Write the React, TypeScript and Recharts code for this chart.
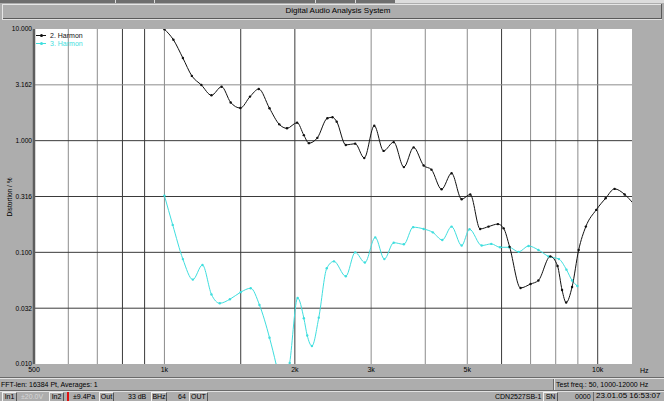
import React from 'react';
import { LineChart, Line, XAxis, YAxis, ReferenceLine, ReferenceArea } from 'recharts';

// ---- data ----
const harmon2Freq = [1000, 1049, 1103, 1157, 1217, 1284, 1355, 1422, 1497, 1576, 1651, 1748, 1841, 1918, 2024, 2098, 2155, 2254, 2377, 2443, 2498, 2622, 2756, 2892, 3050, 3205, 3382, 3570, 3760, 3965, 4134, 4362, 4600, 4853, 5080, 5354, 5598, 5884, 6067, 6262, 6636, 6998, 7297, 7775, 8078, 8275, 8457, 8727, 9038, 9389, 9922, 10430, 10940, 11540, 12070];
const harmon2Values = [9.95, 8.0, 5.5, 3.8, 3.15, 2.55, 3.04, 2.2, 1.96, 2.48, 2.9, 1.95, 1.4, 1.29, 1.45, 1.12, 0.95, 1.06, 1.59, 1.62, 1.48, 0.915, 0.94, 0.7, 1.36, 0.81, 0.97, 0.58, 0.87, 0.6, 0.55, 0.367, 0.51, 0.299, 0.33, 0.162, 0.17, 0.179, 0.164, 0.112, 0.048, 0.052, 0.056, 0.092, 0.0755, 0.046, 0.0355, 0.049, 0.105, 0.17, 0.24, 0.305, 0.37, 0.33, 0.275];

const harmon3Freq = [1000, 1045, 1103, 1163, 1224, 1284, 1342, 1416, 1500, 1582, 1657, 1748, 1812, 1880, 1946, 2030, 2098, 2136, 2190, 2271, 2370, 2462, 2622, 2756, 2902, 3066, 3218, 3382, 3570, 3750, 3965, 4164, 4378, 4600, 4853, 5060, 5398, 5680, 5952, 6242, 6570, 6924, 7297, 7696, 8140, 8470, 8727, 8976];
const harmon3Values = [0.322, 0.176, 0.087, 0.057, 0.077, 0.042, 0.035, 0.038, 0.044, 0.0477, 0.0338, 0.0172, 0.0098, 0.005, 0.0102, 0.039, 0.0257, 0.018, 0.0145, 0.026, 0.072, 0.083, 0.061, 0.1, 0.081, 0.136, 0.087, 0.122, 0.118, 0.168, 0.162, 0.151, 0.129, 0.17, 0.115, 0.161, 0.115, 0.119, 0.111, 0.111, 0.101, 0.114, 0.105, 0.092, 0.087, 0.07, 0.056, 0.05];

const xTicks = [500, 1000, 2000, 3000, 5000, 10000];
const xTickLabels = ['500', '1k', '2k', '3k', '5k', '10k'];
const yTicks = [0.01, 0.0316, 0.1, 0.3162, 1, 3.162, 10];
const yTickLabels = ['0.010', '0.032', '0.100', '0.316', '1.000', '3.162', '10.000'];
const darkVerticalGrid = [800, 900, 1500, 2000, 6000, 10000];
const lightVerticalGrid = [600, 700, 1000, 3000, 4000, 5000, 7000, 8000, 9000];
const darkHorizontalGrid = [0.0316, 0.1, 0.3162, 1];
const lightHorizontalGrid = [3.162];

const seriesNames = ['2. Harmon', '3. Harmon'];
const seriesColors = ['#111111', '#3fdede'];

const harmon2 = harmon2Freq.map((f, i) => ({ f, v: harmon2Values[i] }));
const harmon3 = harmon3Freq.map((f, i) => ({ f, v: harmon3Values[i] }));

const FONT = '"Liberation Sans", Arial, sans-serif';
const PANEL = '#adadad';

const T = (props: { x: number; y: number; text: string; size?: number; color?: string; w?: number; align?: 'left' | 'center' | 'right' }) => (
  <div
    style={{
      position: 'absolute',
      left: props.x,
      top: props.y,
      width: props.w,
      textAlign: props.align || 'left',
      fontSize: props.size || 7,
      lineHeight: '9px',
      fontFamily: FONT,
      color: props.color || '#000',
      whiteSpace: 'nowrap',
    }}
  >
    {props.text}
  </div>
);

const Btn = (props: { x: number; w: number; text: string }) => (
  <div
    style={{
      position: 'absolute',
      left: props.x,
      top: 392,
      width: props.w,
      height: 8,
      borderTop: '1px solid #f0f0f0',
      borderLeft: '1px solid #f0f0f0',
      borderBottom: '1px solid #555',
      borderRight: '1px solid #555',
      fontSize: 7,
      lineHeight: '8px',
      fontFamily: FONT,
      textAlign: 'center',
      color: '#000',
      whiteSpace: 'nowrap',
      boxSizing: 'content-box',
    }}
  >
    {props.text}
  </div>
);

const HLine = (props: { y: number; color: string; x?: number; w?: number }) => (
  <div style={{ position: 'absolute', left: props.x || 0, top: props.y, width: props.w || 664, height: 1, background: props.color }} />
);
const VLine = (props: { x: number; y: number; h: number; color: string }) => (
  <div style={{ position: 'absolute', left: props.x, top: props.y, width: 1, height: props.h, background: props.color }} />
);

export default function App() {
  return (
    <div style={{ position: 'absolute', left: 0, top: 0, width: 664, height: 401, background: PANEL, overflow: 'hidden' }}>
      {/* top strip */}
      <div style={{ position: 'absolute', left: 0, top: 0, width: 395, height: 3, background: '#6e6e6e' }} />
      <div style={{ position: 'absolute', left: 395, top: 0, width: 269, height: 3, background: '#dcdcdc' }} />
      {[115, 154, 315, 355].map((x) => (
        <VLine key={x} x={x} y={0} h={3} color="#dddddd" />
      ))}
      {/* title bar */}
      <HLine y={4} color="#e6e6e6" x={2} w={660} />
      <HLine y={18} color="#5a5a5a" x={2} w={660} />
      <HLine y={19} color="#e0e0e0" x={2} w={660} />
      <VLine x={2} y={4} h={15} color="#e6e6e6" />
      <VLine x={661} y={4} h={15} color="#5a5a5a" />
      <T x={6} y={6} w={664} align="center" size={8} text="Digital Audio Analysis System" />

      {/* chart */}
      <div style={{ position: 'absolute', left: 0, top: 0 }}>
        <LineChart width={664} height={401} margin={{ top: 29, right: 32, bottom: 23, left: 0 }}>
          <XAxis
            dataKey="f"
            type="number"
            scale="log"
            domain={[500, 12000]}
            allowDataOverflow
            ticks={xTicks}
            interval={0}
            tickFormatter={(v: number) => xTickLabels[xTicks.indexOf(v)] ?? ''}
            tickLine={false}
            axisLine={false}
            tickSize={0}
            tickMargin={3}
            height={14}
            tick={{ fontSize: 7, fill: '#000', fontFamily: FONT }}
          />
          <YAxis
            type="number"
            scale="log"
            domain={[0.01, 10]}
            allowDataOverflow
            ticks={yTicks}
            interval={0}
            tickFormatter={(v: number) => yTickLabels[yTicks.indexOf(v)] ?? ''}
            tickLine={false}
            axisLine={{ stroke: '#5e5e5e', strokeWidth: 2.5 }}
            tickSize={0}
            tickMargin={2}
            width={34}
            tick={{ fontSize: 6.6, fill: '#000', fontFamily: FONT }}
          />
          <ReferenceArea x1={500} x2={12000} y1={0.01} y2={10} fill="#ffffff" fillOpacity={1} stroke="none" ifOverflow="hidden" />
          {lightVerticalGrid.map((x) => (
            <ReferenceLine key={'lv' + x} x={x} stroke="#8c8c8c" strokeWidth={1} />
          ))}
          {darkVerticalGrid.map((x) => (
            <ReferenceLine key={'dv' + x} x={x} stroke="#3a3a3a" strokeWidth={1} />
          ))}
          {lightHorizontalGrid.map((y) => (
            <ReferenceLine key={'lh' + y} y={y} stroke="#8c8c8c" strokeWidth={1} />
          ))}
          {darkHorizontalGrid.map((y) => (
            <ReferenceLine key={'dh' + y} y={y} stroke="#3a3a3a" strokeWidth={1} />
          ))}
          <Line
            data={harmon3}
            dataKey="v"
            name={seriesNames[1]}
            type="monotone"
            stroke={seriesColors[1]}
            strokeWidth={1}
            dot={{ r: 1.2, fill: seriesColors[1], stroke: 'none' }}
            isAnimationActive={false}
          />
          <Line
            data={harmon2}
            dataKey="v"
            name={seriesNames[0]}
            type="monotone"
            stroke={seriesColors[0]}
            strokeWidth={1}
            dot={{ r: 1.2, fill: seriesColors[0], stroke: 'none' }}
            isAnimationActive={false}
          />
        </LineChart>
      </div>

      {/* y axis title */}
      <div
        style={{
          position: 'absolute',
          left: 10,
          top: 197,
          transform: 'translate(-50%, -50%) rotate(-90deg)',
          fontSize: 6.6,
          lineHeight: '8px',
          fontFamily: FONT,
          whiteSpace: 'nowrap',
          color: '#000',
        }}
      >
        Distortion / %
      </div>

      {/* legend */}
      {seriesNames.map((name, i) => (
        <React.Fragment key={name}>
          <div style={{ position: 'absolute', left: 36, top: 35 + i * 8, width: 10, height: 1, background: seriesColors[i] }} />
          <div style={{ position: 'absolute', left: 40, top: 34 + i * 8, width: 3, height: 3, borderRadius: 2, background: seriesColors[i] }} />
          <T x={50} y={31 + i * 8} text={name} color={seriesColors[i]} />
        </React.Fragment>
      ))}

      {/* Hz */}
      <T x={640} y={366} text="Hz" />

      {/* status line 1 */}
      <HLine y={377} color="#6a6a6a" />
      <HLine y={378} color="#e2e2e2" />
      <T x={1} y={380} text="FFT-len: 16384 Pt, Averages: 1" />
      <VLine x={553} y={379} h={11} color="#6a6a6a" />
      <VLine x={554} y={379} h={11} color="#e2e2e2" />
      <T x={556} y={380} text="Test freq.: 50, 1000-12000 Hz" />
      <HLine y={390} color="#6a6a6a" />
      <HLine y={391} color="#e2e2e2" />

      {/* status line 2 */}
      <Btn x={2} w={13} text="In1" />
      <T x={21} y={392} text="±20.0V" color="#d8d8d8" />
      <Btn x={49} w={13} text="In2" />
      <div style={{ position: 'absolute', left: 67, top: 392, width: 2, height: 9, background: '#e01010' }} />
      <T x={73} y={392} text="±9.4Pa" />
      <Btn x={99} w={13} text="Out" />
      <T x={128} y={392} text="33 dB" />
      <Btn x={151} w={14} text="BHz" />
      <T x={178} y={392} text="64" />
      <Btn x={189} w={17} text="OUT" />
      <T x={495} y={392} text="CDN2527SB-1" />
      <Btn x={543} w={13} text="SN" />
      <T x={575} y={392} text="0000" />
      <VLine x={593} y={392} h={9} color="#6a6a6a" />
      <T x={596} y={391} size={8} text="23.01.05 16:53:07" />
    </div>
  );
}
